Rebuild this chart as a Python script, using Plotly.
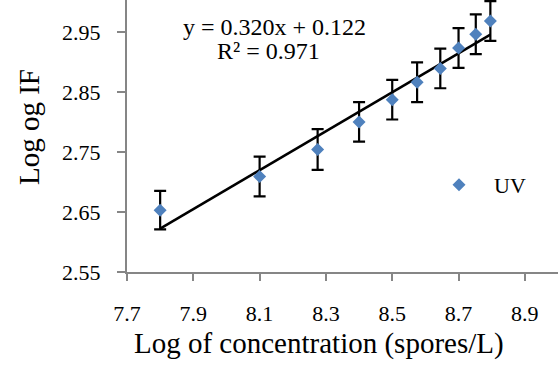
import numpy as np
import plotly.graph_objects as go

# Data
log_conc = [7.80, 8.10, 8.275, 8.40, 8.50, 8.575, 8.645, 8.70, 8.752, 8.796]
log_if = [2.653, 2.709, 2.754, 2.800, 2.837, 2.866, 2.889, 2.923, 2.946, 2.968]
err = [0.032, 0.033, 0.034, 0.033, 0.033, 0.033, 0.033, 0.033, 0.033, 0.033]
series_name = "UV"
equation_text = "y = 0.320x + 0.122"
r2_text = "R² = 0.971"
x_ticks = [7.7, 7.9, 8.1, 8.3, 8.5, 8.7, 8.9]
y_ticks = [2.55, 2.65, 2.75, 2.85, 2.95]

FONT = "Liberation Serif"

slope, intercept = np.polyfit(log_conc, log_if, 1)
x_fit = [min(log_conc), max(log_conc)]
y_fit = [slope * v + intercept for v in x_fit]

fig = go.Figure()
fig.add_trace(go.Scatter(
    x=x_fit, y=y_fit, mode="lines",
    line=dict(color="black", width=2.5),
    showlegend=False, hoverinfo="skip", cliponaxis=False,
))
fig.add_trace(go.Scatter(
    x=log_conc, y=log_if, mode="markers", name=series_name,
    marker=dict(symbol="diamond", color="#4F81BD", size=10),
    error_y=dict(type="data", array=err, visible=True,
                 color="black", thickness=2.2, width=6),
    cliponaxis=False,
))

fig.update_layout(
    width=558, height=378,
    margin=dict(l=127, r=0, t=0, b=106),
    paper_bgcolor="white", plot_bgcolor="white",
    font=dict(family=FONT, size=22, color="black"),
    showlegend=True,
    legend=dict(x=(424 - 127) / 431, y=0.32, xanchor="left", yanchor="middle",
                bgcolor="rgba(0,0,0,0)", font=dict(size=22, family=FONT),
                itemwidth=60),
)
fig.update_xaxes(
    range=[7.7, 9.0], tickvals=x_ticks, ticktext=[f"{v:.1f}" for v in x_ticks],
    showline=True, linecolor="#868686", linewidth=2,
    ticks="outside", ticklen=7, tickwidth=2, tickcolor="#868686",
    showgrid=False, zeroline=False, ticklabelstandoff=14,
    tickfont=dict(size=22, family=FONT),
)
fig.update_yaxes(
    range=[2.55, 3.003], tickvals=y_ticks, ticktext=[f"{v:.2f}" for v in y_ticks],
    showline=True, linecolor="#868686", linewidth=2,
    ticks="outside", ticklen=8, tickwidth=2, tickcolor="#868686",
    showgrid=False, zeroline=False, ticklabelstandoff=12,
    tickfont=dict(size=22, family=FONT),
)

fig.add_annotation(text=equation_text, xref="paper", yref="paper",
                   x=(274 - 127) / 431, y=1 - 27 / 272, xanchor="center", yanchor="middle",
                   showarrow=False, font=dict(size=24, family=FONT))
fig.add_annotation(text=r2_text, xref="paper", yref="paper",
                   x=(268 - 127) / 431, y=1 - 51 / 272, xanchor="center", yanchor="middle",
                   showarrow=False, font=dict(size=24, family=FONT))
fig.add_annotation(text="Log og IF", xref="paper", yref="paper",
                   x=(29 - 127) / 431, y=1 - 127 / 272, xanchor="center", yanchor="middle",
                   textangle=-90, showarrow=False, font=dict(size=29, family=FONT))
fig.add_annotation(text="Log of concentration (spores/L)", xref="paper", yref="paper",
                   x=(318.5 - 127) / 431, y=-(343 - 272) / 272, xanchor="center", yanchor="middle",
                   showarrow=False, font=dict(size=29, family=FONT))

fig.write_html("out.html", config={"displayModeBar": False},
               post_script="document.body.style.margin='0';")
